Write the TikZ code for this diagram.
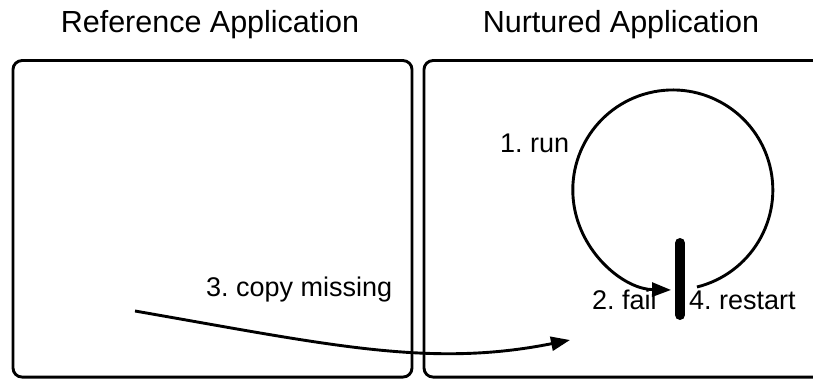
\documentclass[tikz,border=0pt]{standalone}
\usepackage{fontspec}
\setmainfont{Liberation Sans}
\frenchspacing
\usetikzlibrary{arrows.meta}
\begin{document}
\begin{tikzpicture}[x=1pt,y=-1pt,
  appbox/.style={draw=black,line width=2.9pt,rounded corners=9pt,minimum height=316.5pt,inner sep=0pt},
  title/.style={font=\fontsize{30.5}{36}\selectfont,inner sep=0pt,anchor=base},
  lbl/.style={font=\fontsize{27}{32}\selectfont,inner sep=0pt,anchor=base west},
  conn/.style={line width=2.9pt,-{Triangle[length=19pt,width=14pt]}}]
\useasboundingbox (0,0) rectangle (813,379);
\node[appbox,minimum width=399pt] (refbox) at (212.5,218.8) {};
\node[appbox,minimum width=406pt] (nurbox) at (627,218.8) {};
\node[title] (reft) at (210,33) {Reference Application};
\node[title] (nurt) at (621,33) {Nurtured Application};
\node[lbl] (run) at (500,153) {1. run};
\node[lbl] (copy) at (206,296) {3. copy missing};
\node[lbl] (fail) at (592,309) {2. fail};
\node[lbl] (restart) at (689,309) {4. restart};
% run loop
\coordinate (loopstart) at (697,287);
\draw[conn] (loopstart) arc[start angle=76,end angle=-269,radius=100];
% fail bar
\coordinate (bartop) at (680,243);
\coordinate (barbot) at (680,315);
\draw[line width=10pt,line cap=round] (bartop) -- (barbot);
% copy arrow
\coordinate (cpstart) at (135,311);
\coordinate (cpend) at (570,340);
\draw[conn] (cpstart) .. controls (330,345) and (430,368) .. (cpend);
\end{tikzpicture}
\end{document}
